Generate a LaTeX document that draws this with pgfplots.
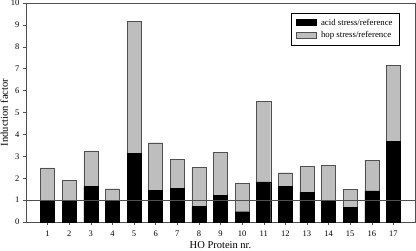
\documentclass[border=0pt]{standalone}
\usepackage{pgfplots}
\pgfplotsset{compat=1.18}
\usepackage{fontspec}
\setmainfont{Liberation Serif}
\definecolor{hopgray}{RGB}{190,190,190}
\definecolor{edgegray}{RGB}{80,80,80}
\begin{document}
\begin{tikzpicture}
\path[use as bounding box] (-26pt,-29pt) rectangle (390pt,222pt);
\begin{axis}[
    scale only axis,
    width=389pt, height=219pt,
    at={(0,0)}, anchor=south west,
    xmin=0, xmax=18,
    ymin=0, ymax=10,
    xtick={1,...,17},
    ytick={0,...,10},
    tick style={edgegray, thin},
    tick align=outside,
    tick pos=left,
    major tick length=3pt,
    /pgf/number format/assume math mode=true,
    tick label style={font=\fontsize{8.5}{10}\selectfont},
    x tick label style={yshift=-2pt},
    label style={font=\fontsize{10.5}{12}\selectfont},
    xlabel={HO Protein nr.},
    ylabel={Induction factor},
    xlabel style={yshift=2pt},
    ylabel style={yshift=-4pt},
    axis line style={edgegray, thin},
    bar width=0.65,
    legend style={at={(0.961,0.956)}, anchor=north east, draw=black, thin,
        font=\fontsize{8.8}{10.5}\selectfont, inner xsep=5pt, inner ysep=4pt,
        row sep=1pt, cells={anchor=west}},
    legend image code/.code={\draw[#1] (0pt,-3pt) rectangle (20pt,3pt);
        \path[draw=none, fill=none] (0pt,0pt) -- (23pt,0pt);},
    clip=false,
]
\addplot[ybar, bar shift=0pt, fill=hopgray, draw=edgegray, thin, forget plot] coordinates {
(1,2.47) (2,1.90) (3,3.25) (4,1.52) (5,9.15) (6,3.62) (7,2.87) (8,2.50) (9,3.17)
(10,1.77) (11,5.51) (12,2.25) (13,2.54) (14,2.60) (15,1.48) (16,2.82) (17,7.14)
};
\addplot[ybar, bar shift=0pt, fill=black, draw=black, thin] coordinates {
(1,1.00) (2,1.00) (3,1.62) (4,1.00) (5,3.12) (6,1.45) (7,1.53) (8,0.70) (9,1.22)
(10,0.47) (11,1.83) (12,1.64) (13,1.34) (14,0.96) (15,0.68) (16,1.42) (17,3.68)
};
\addlegendentry{acid stress/reference}
\addlegendimage{fill=hopgray, draw=edgegray, thin}
\addlegendentry{hop stress/reference}
\addplot[edgegray, thin, forget plot] coordinates {(0,1) (18,1)};
\draw[edgegray, thin] (axis cs:0,10) -- (axis cs:18,10) -- (axis cs:18,0);
\end{axis}
\end{tikzpicture}
\end{document}
